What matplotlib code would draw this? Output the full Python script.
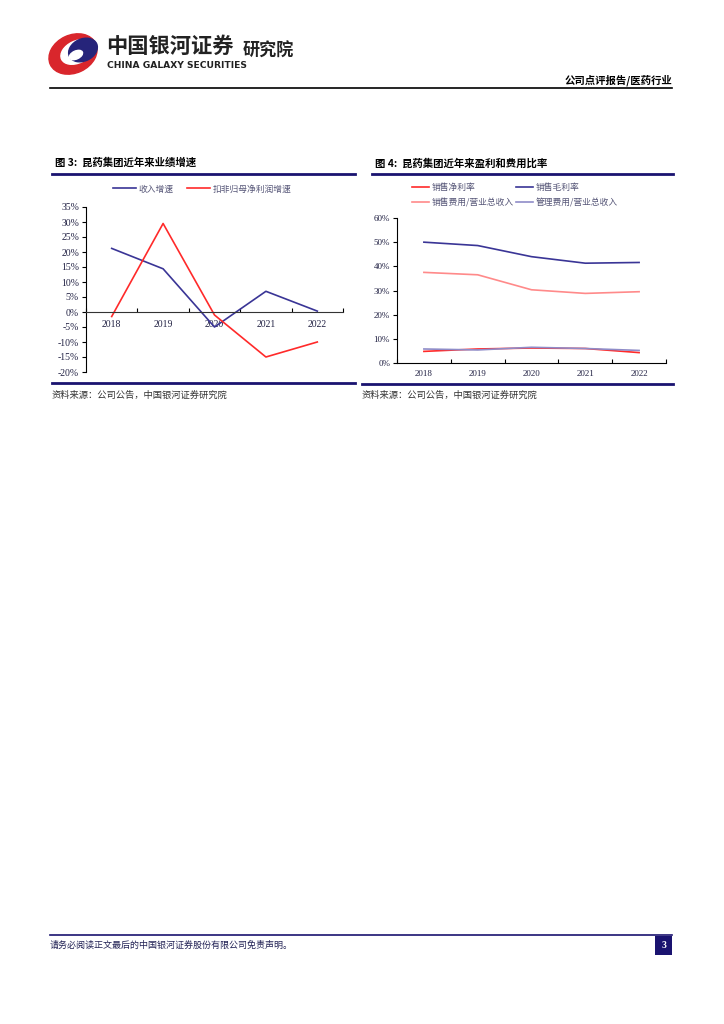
import matplotlib
matplotlib.use("Agg")
import matplotlib.pyplot as plt
from matplotlib.patches import Ellipse, Rectangle
from matplotlib.lines import Line2D
from matplotlib.ticker import FuncFormatter, FixedLocator

plt.rcParams['font.family'] = ['Noto Sans CJK SC', 'DejaVu Sans']

# 数据
years = ['2018', '2019', '2020', '2021', '2022']
rev_growth = [21.2, 14.4, -5.0, 6.9, 0.3]
profit_growth = [-1.5, 29.5, -1.0, -15.0, -10.0]

net_margin = [4.8, 5.8, 6.2, 6.0, 4.3]
gross_margin = [50.0, 48.6, 44.0, 41.3, 41.6]
sales_ratio = [37.5, 36.5, 30.3, 28.8, 29.5]
admin_ratio = [5.8, 5.4, 6.5, 6.0, 5.2]

W, H = 724, 1024
NAVY = '#1a1370'
BLUE = '#3a3596'
RED = '#ff2a2a'
LRED = '#ff8a8a'
LBLUE = '#8f8cc8'
SERIF = ['Liberation Serif', 'DejaVu Serif']


def fx(x):
    return x / W


def fy(y):
    return 1 - y / H


fig = plt.figure(figsize=(W / 100, H / 100), dpi=100)


def hline(x0, x1, y, lw=1.0, color='black'):
    fig.add_artist(Line2D([fx(x0), fx(x1)], [fy(y), fy(y)], color=color, lw=lw))


# 页眉
logo = fig.add_axes([fx(46), fy(78), fx(58), 48 / H])
logo.set_xlim(0, 58)
logo.set_ylim(0, 48)
logo.set_aspect('equal')
logo.axis('off')
logo.add_patch(Ellipse((27, 24), 50, 38, angle=25, color='#d9262c'))
logo.add_patch(Ellipse((31, 26), 34, 22, angle=25, color='white'))
logo.add_patch(Ellipse((37, 28), 30, 22, angle=25, color='#26247a'))
logo.add_patch(Ellipse((30, 23), 14, 8, angle=25, color='white'))

fig.text(fx(106), fy(46), '中国银河证券', fontsize=15.3, fontweight='bold',
         color='#222222', va='center', ha='left')
fig.text(fx(107), fy(66), 'CHINA GALAXY SECURITIES', fontsize=6.6,
         fontweight='bold', color='#222222', va='center', ha='left',
         family=['DejaVu Sans'])
fig.text(fx(243), fy(51), '研究院', fontsize=12.3, fontweight='bold',
         color='#222222', va='center', ha='left')
fig.text(fx(672), fy(80), '公司点评报告/医药行业', fontsize=7.5, fontweight='bold',
         color='black', va='center', ha='right')
hline(50, 672, 88, lw=1.2)

# 标题与分隔线
fig.text(fx(55), fy(163), '图 3:  昆药集团近年来业绩增速', fontsize=7.5,
         fontweight='bold', color='black', va='center', ha='left')
fig.text(fx(375), fy(163), '图 4:  昆药集团近年来盈利和费用比率', fontsize=7.5,
         fontweight='bold', color='black', va='center', ha='left')
hline(52, 355, 174, lw=2, color=NAVY)
hline(372, 673, 174, lw=2, color=NAVY)
hline(52, 355, 383, lw=2, color=NAVY)
hline(362, 673, 384, lw=2, color=NAVY)
fig.text(fx(52), fy(395), '资料来源：公司公告，中国银河证券研究院', fontsize=6.7,
         style='italic', color='#333333', va='center', ha='left')
fig.text(fx(362), fy(395), '资料来源：公司公告，中国银河证券研究院', fontsize=6.7,
         style='italic', color='#333333', va='center', ha='left')

pct = FuncFormatter(lambda v, p: f'{v:.0f}%')
xs = list(range(len(years)))
edges = [i + 0.5 for i in range(-1, len(years))]

# 图3
ax1 = fig.add_axes([fx(86), fy(372), fx(343) - fx(86), (372 - 207) / H])
ax1.plot(xs, rev_growth, color=BLUE, lw=1.2, label='收入增速')
ax1.plot(xs, profit_growth, color=RED, lw=1.2, label='扣非归母净利润增速')
ax1.set_xlim(-0.5, 4.5)
ax1.set_ylim(-20, 35)
ax1.set_yticks(range(-20, 36, 5))
ax1.yaxis.set_major_formatter(pct)
ax1.spines['top'].set_visible(False)
ax1.spines['right'].set_visible(False)
ax1.spines['bottom'].set_position(('data', 0))
ax1.spines['bottom'].set_color('#333333')
ax1.spines['bottom'].set_linewidth(0.8)
ax1.spines['left'].set_linewidth(0.8)
ax1.set_xticks(xs)
ax1.set_xticklabels(years)
ax1.xaxis.set_minor_locator(FixedLocator(edges))
ax1.tick_params(axis='x', which='major', length=0, pad=6)
ax1.tick_params(axis='x', which='minor', length=3, direction='in', width=0.8)
ax1.tick_params(axis='y', length=3, width=0.8, pad=2)
for lab in ax1.get_xticklabels() + ax1.get_yticklabels():
    lab.set_fontfamily(SERIF)
    lab.set_fontsize(7)
    lab.set_color('#222244')
ax1.legend(loc='center', bbox_to_anchor=(fx(202), fy(189)),
           bbox_transform=fig.transFigure, ncol=2, frameon=False,
           fontsize=6.3, handlelength=2.6, handletextpad=0.3, columnspacing=1.6,
           labelcolor='#555577')

# 图4
ax2 = fig.add_axes([fx(397), fy(363), fx(666) - fx(397), (363 - 218) / H])
l_net, = ax2.plot(xs, net_margin, color=RED, lw=1.2, label='销售净利率')
l_gross, = ax2.plot(xs, gross_margin, color=BLUE, lw=1.2, label='销售毛利率')
l_sales, = ax2.plot(xs, sales_ratio, color=LRED, lw=1.2, label='销售费用/营业总收入')
l_admin, = ax2.plot(xs, admin_ratio, color=LBLUE, lw=1.2, label='管理费用/营业总收入')
ax2.set_xlim(-0.5, 4.5)
ax2.set_ylim(0, 60)
ax2.set_yticks(range(0, 61, 10))
ax2.yaxis.set_major_formatter(pct)
ax2.spines['top'].set_visible(False)
ax2.spines['right'].set_visible(False)
ax2.spines['bottom'].set_linewidth(0.8)
ax2.spines['left'].set_linewidth(0.8)
ax2.set_xticks(xs)
ax2.set_xticklabels(years)
ax2.xaxis.set_minor_locator(FixedLocator(edges))
ax2.tick_params(axis='x', which='major', length=0, pad=5)
ax2.tick_params(axis='x', which='minor', length=3, direction='in', width=0.8)
ax2.tick_params(axis='y', length=3, width=0.8, pad=2)
for lab in ax2.get_xticklabels() + ax2.get_yticklabels():
    lab.set_fontfamily(SERIF)
    lab.set_fontsize(6.5)
    lab.set_color('#222244')
ax2.legend(handles=[l_net, l_sales, l_gross, l_admin], loc='center',
           bbox_to_anchor=(fx(515), fy(195)), bbox_transform=fig.transFigure,
           ncol=2, frameon=False, fontsize=6.3, handlelength=2.0,
           handletextpad=0.3, columnspacing=0.2, labelspacing=0.75,
           labelcolor='#555577')

# 页脚
hline(50, 672, 935, lw=1.2, color=NAVY)
fig.text(fx(50), fy(945), '请务必阅读正文最后的中国银河证券股份有限公司免责声明。',
         fontsize=6.5, color='#222255', va='center', ha='left')
fig.add_artist(Rectangle((fx(655), fy(955)), fx(17), 19 / H,
                         facecolor=NAVY, edgecolor='none'))
fig.text(fx(663.5), fy(946), '3', fontsize=7, color='white', fontweight='bold',
         va='center', ha='center', family=SERIF)

fig.savefig('out.png', dpi=100)
